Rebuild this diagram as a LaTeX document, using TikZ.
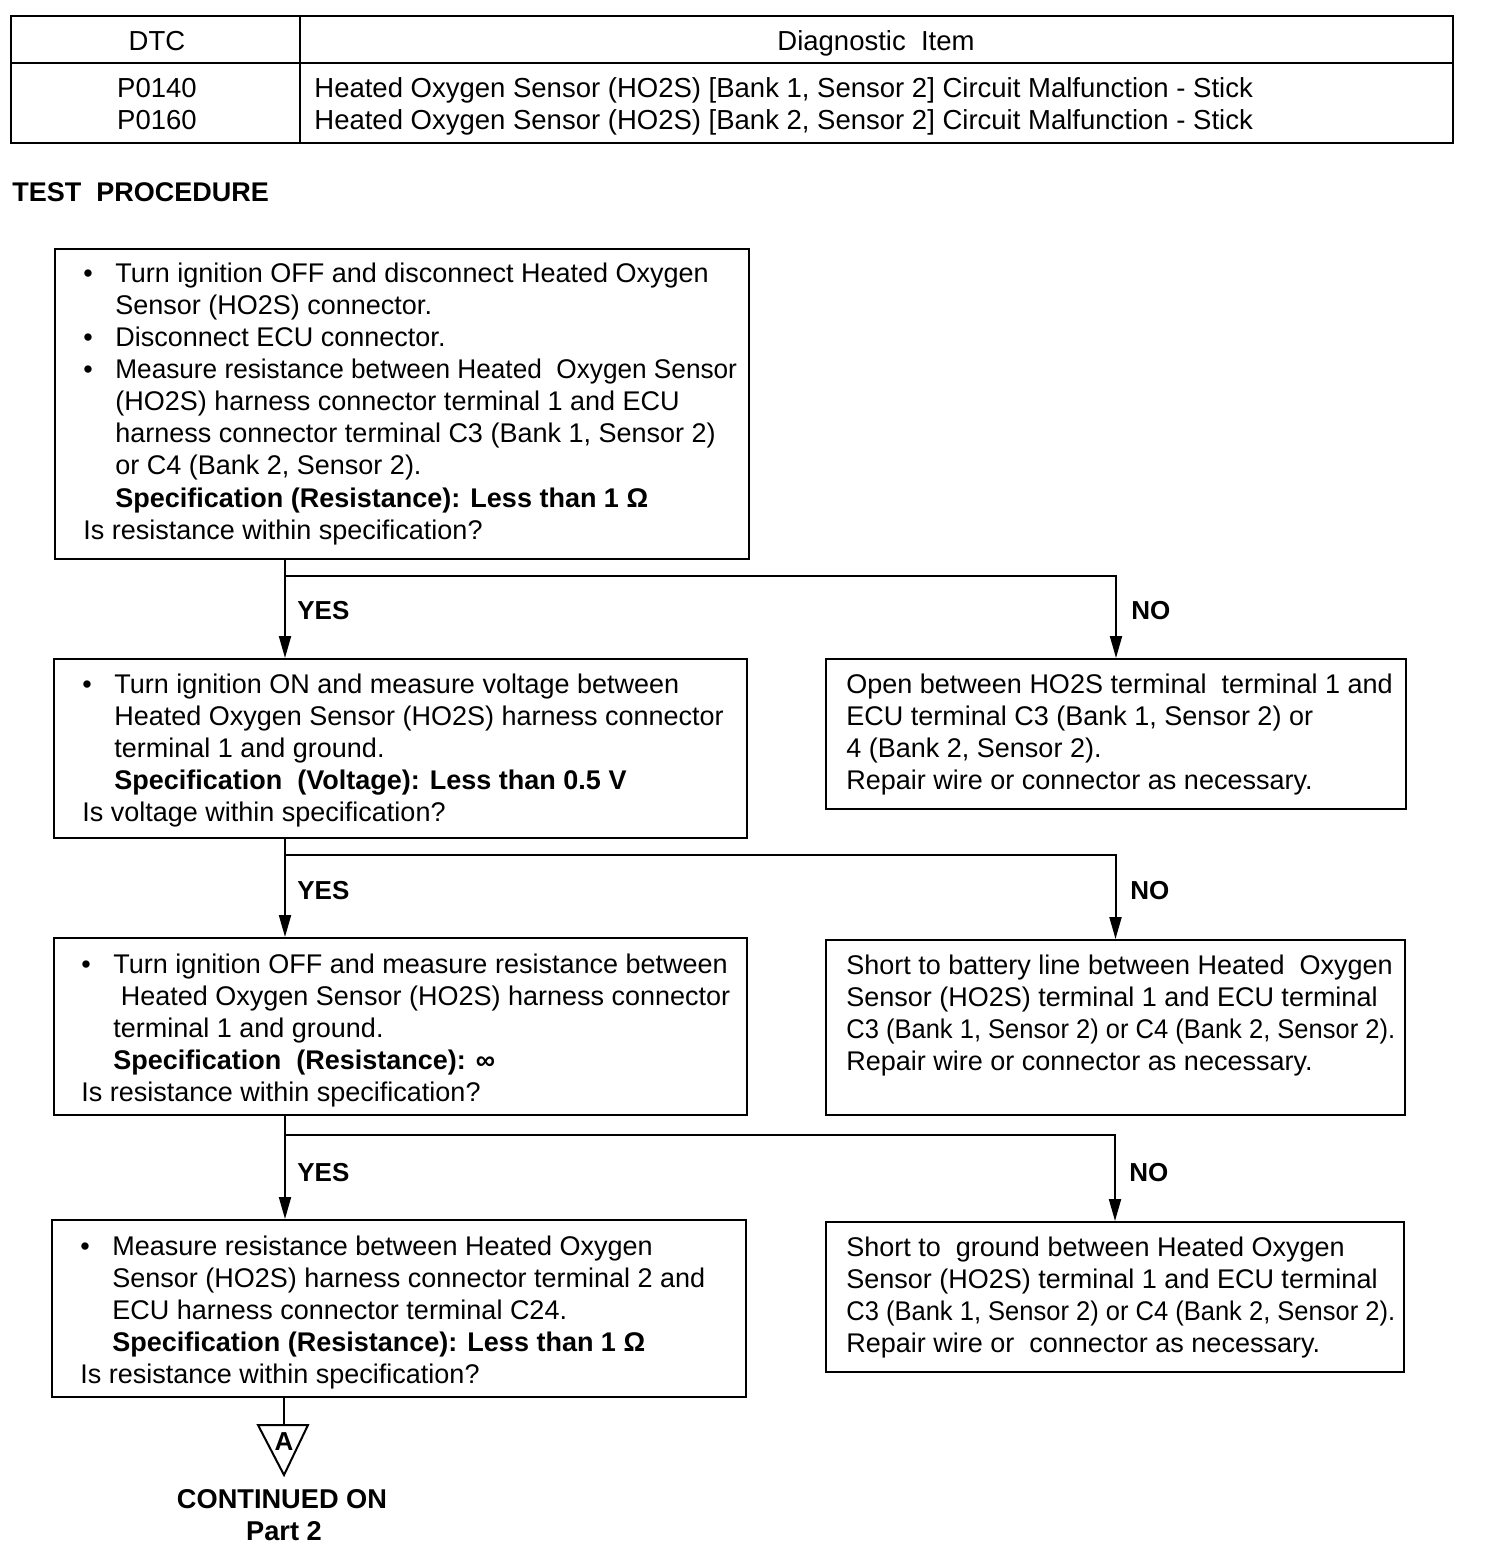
\documentclass[tikz,border=0pt]{standalone}
\usepackage{fontspec}
\usepackage{graphicx}
\setmainfont{Liberation Sans}
\usetikzlibrary{arrows.meta,fit}
\newcommand\bl[1]{\hbox{\makebox[16pt][l]{\textbullet}#1}}
\newcommand\cl[1]{\hbox{\hspace*{16pt}#1}}
\newcommand\pl[1]{\hbox{#1}}
\newcommand\blk[1]{\vtop{\baselineskip=16pt\lineskiplimit=-20pt #1}}
\newcommand\spec[1]{{\bfseries #1}}
\newcommand\sqz[2]{\scalebox{#1}[1]{#2}}
\tikzset{
  box/.style={draw, line width=1pt, inner sep=0pt},
  tbl/.style={draw, line width=0.8pt, inner sep=0pt},
  txt/.style={inner sep=0pt, anchor=base west, font=\fontsize{13.5}{16}\selectfont},
  ttxt/.style={inner sep=0pt, anchor=base, font=\fontsize{13.75}{16}\selectfont},
  lbl/.style={inner sep=0pt, anchor=base west, font=\fontsize{13}{16}\selectfont\bfseries},
  conn/.style={line width=1pt},
  arr/.style={line width=1pt, -{Triangle[width=6pt,length=11pt]}},
}
\begin{document}
\begin{tikzpicture}[x=0.5pt,y=-0.5pt]
\useasboundingbox (0,0) rectangle (1504,1556);
% table
\node[tbl, fit={(11,16)(1453,143)}] (table) {};
\draw[line width=0.8pt] (table.west |- 0,63) -- (table.east |- 0,63);
\draw[line width=0.8pt] (table.north -| 300,0) -- (table.south -| 300,0);
\node[ttxt] (hdtc) at (157,51) {DTC};
\node[ttxt] (hdiag) at (876,51) {Diagnostic\ \ Item};
\node[ttxt] (c1) at (157,98) {P0140};
\node[ttxt] (c2) at (157,130) {P0160};
\node[ttxt, anchor=base west] (d1) at (314,98) {Heated Oxygen Sensor (HO2S) [Bank 1, Sensor 2] Circuit Malfunction - Stick};
\node[ttxt, anchor=base west] (d2) at (314,130) {Heated Oxygen Sensor (HO2S) [Bank 2, Sensor 2] Circuit Malfunction - Stick};
\node[lbl, font=\fontsize{13.5}{16}\selectfont\bfseries] (title) at (12,202) {TEST\ \ PROCEDURE};
% boxes
\node[box, fit={(55,249)(749,559)}] (b1) {};
\node[box, fit={(54,659)(747,838)}] (b2) {};
\node[box, fit={(54,938)(747,1115)}] (b3) {};
\node[box, fit={(52,1220)(746,1397)}] (b4) {};
\node[box, fit={(826,659)(1406,809)}] (r1) {};
\node[box, fit={(826,940)(1405,1115)}] (r2) {};
\node[box, fit={(826,1222)(1404,1372)}] (r3) {};
% texts
\node[txt] (t1) at (83,283) {\blk{%
\bl{Turn ignition OFF and disconnect Heated Oxygen}
\cl{Sensor (HO2S) connector.}
\bl{Disconnect ECU connector.}
\bl{\sqz{0.97}{Measure resistance between Heated\ \ Oxygen Sensor}}
\cl{(HO2S) harness connector terminal 1 and ECU}
\cl{harness connector terminal C3 (Bank 1, Sensor 2)}
\cl{or C4 (Bank 2, Sensor 2).}
\cl{\spec{Specification (Resistance): Less than 1 Ω}}
\pl{Is resistance within specification?}}};
\node[txt] (t2) at (82,693) {\blk{%
\bl{Turn ignition ON and measure voltage between}
\cl{Heated Oxygen Sensor (HO2S) harness connector}
\cl{terminal 1 and ground.}
\cl{\spec{Specification\ \ (Voltage): Less than 0.5 V}}
\pl{Is voltage within specification?}}};
\node[txt] (t3) at (81,973) {\blk{%
\bl{Turn ignition OFF and measure resistance between}
\cl{\ Heated Oxygen Sensor (HO2S) harness connector}
\cl{terminal 1 and ground.}
\cl{\spec{Specification\ \ (Resistance): ∞}}
\pl{Is resistance within specification?}}};
\node[txt] (t4) at (80,1255) {\blk{%
\bl{Measure resistance between Heated Oxygen}
\cl{Sensor (HO2S) harness connector terminal 2 and}
\cl{ECU harness connector terminal C24.}
\cl{\spec{Specification (Resistance): Less than 1 Ω}}
\pl{Is resistance within specification?}}};
\node[txt] (s1) at (846,693) {\blk{%
\pl{Open between HO2S terminal\ \ terminal 1 and}
\pl{ECU terminal C3 (Bank 1, Sensor 2) or}
\pl{4 (Bank 2, Sensor 2).}
\pl{Repair wire or connector as necessary.}}};
\node[txt] (s2) at (846,974) {\blk{%
\pl{Short to battery line between Heated\ \ Oxygen}
\pl{Sensor (HO2S) terminal 1 and ECU terminal}
\pl{\sqz{0.945}{C3 (Bank 1, Sensor 2) or C4 (Bank 2, Sensor 2).}}
\pl{Repair wire or connector as necessary.}}};
\node[txt] (s3) at (846,1256) {\blk{%
\pl{Short to\ \ ground between Heated Oxygen}
\pl{Sensor (HO2S) terminal 1 and ECU terminal}
\pl{\sqz{0.945}{C3 (Bank 1, Sensor 2) or C4 (Bank 2, Sensor 2).}}
\pl{Repair wire or\ \ connector as necessary.}}};
% connectors
\coordinate (j1) at (285,576);
\coordinate (j2) at (285,855);
\coordinate (j3) at (285,1135);
\draw[arr] (b1.south -| j1) -- (b2.north -| j1);
\draw[arr] (j1) -| (r1.north);
\draw[arr] (b2.south -| j2) -- (b3.north -| j2);
\draw[arr] (j2) -| (r2.north);
\draw[arr] (b3.south -| j3) -- (b4.north -| j3);
\draw[arr] (j3) -| (r3.north);
\node[lbl] (y1) at (297,619) {YES};
\node[lbl] (n1) at (1131,619) {NO};
\node[lbl] (y2) at (297,899) {YES};
\node[lbl] (n2) at (1130,899) {NO};
\node[lbl] (y3) at (297,1181) {YES};
\node[lbl] (n3) at (1129,1181) {NO};
% continuation
\coordinate (tl) at (258,1425);
\coordinate (tr) at (308,1425);
\coordinate (tb) at (284,1475);
\coordinate (tt) at (284,1425);
\draw[conn] (b4.south -| tt) -- (tt);
\draw[line width=1pt, line join=miter] (tl) -- (tr) -- (tb) -- cycle;
\node[lbl, anchor=base] (A) at (284,1450) {A};
\node[lbl, anchor=base, font=\fontsize{13.6}{16}\selectfont\bfseries] (cont) at (282,1508) {CONTINUED ON};
\node[lbl, anchor=base, font=\fontsize{13.6}{16}\selectfont\bfseries] (part) at (284,1540) {Part 2};
\end{tikzpicture}
\end{document}
